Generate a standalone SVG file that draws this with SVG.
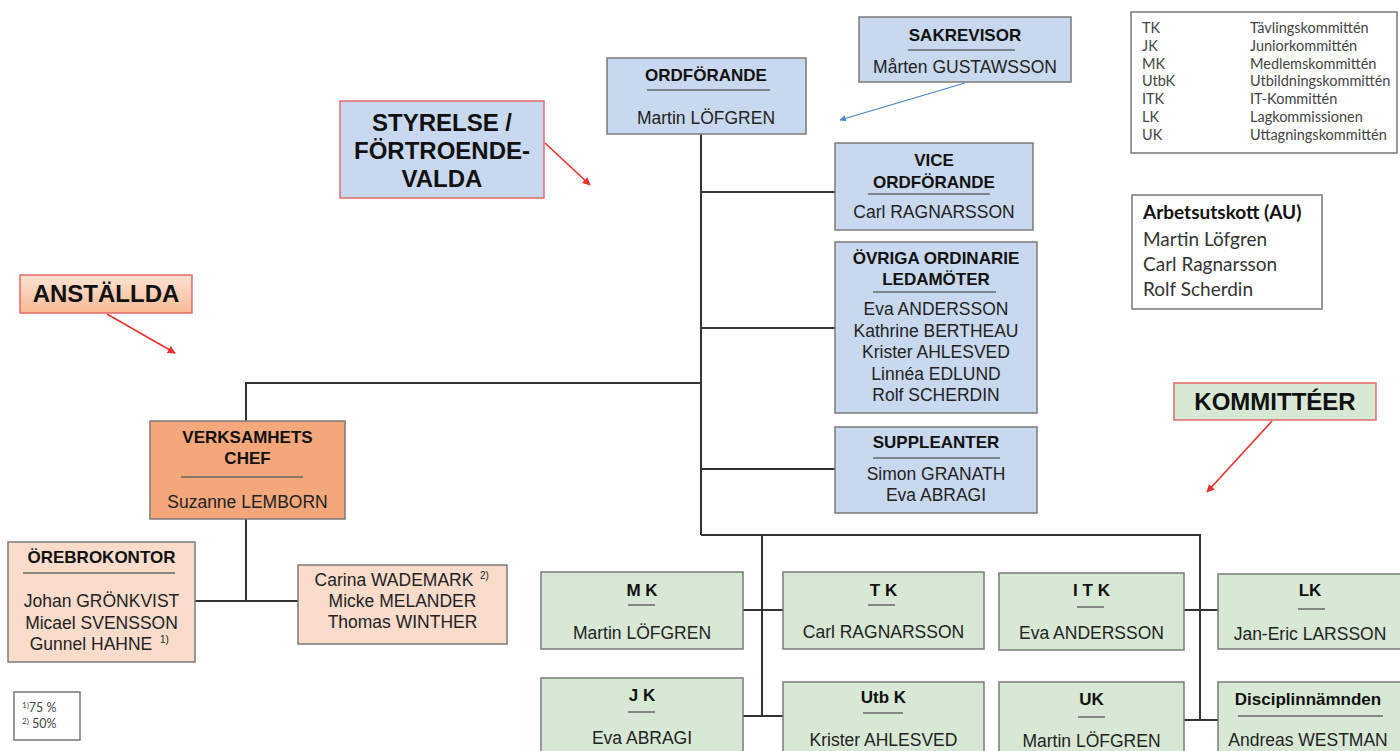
<svg xmlns="http://www.w3.org/2000/svg" width="1400" height="751" viewBox="0 0 1400 751">
<defs>
<style>
.bx{stroke:#7a7a7a;stroke-width:1.5}
.blue{fill:#c8d9ef}
.orange{fill:#f4a77b}
.peach{fill:#fbdccb}
.green{fill:#d7e9d4}
.lab{stroke:#e36a6a;stroke-width:1.5}
.t{font-family:"Liberation Sans",Arial,sans-serif;font-weight:bold;font-size:17px;fill:#111;text-anchor:middle}
.n{font-family:"Liberation Sans",Arial,sans-serif;font-size:17.5px;fill:#222;text-anchor:middle}
.big{font-family:"Liberation Sans",Arial,sans-serif;font-weight:bold;font-size:24px;fill:#111;text-anchor:middle}
.sup{font-family:"Liberation Sans",Arial,sans-serif;font-size:10px;fill:#222}
.sep{stroke:#666;stroke-width:1.5}
.conn{fill:none;stroke:#333;stroke-width:2}
.red{fill:none;stroke:#e8322e;stroke-width:1.6}
.bl{fill:none;stroke:#4a86c8;stroke-width:1.3}
.cal{font-family:Lato,"Open Sans",sans-serif;fill:#444;font-size:14.5px}
.cal2{font-family:Lato,"Open Sans",sans-serif;fill:#333;font-size:19px}
.frame{fill:#fff;stroke:#777;stroke-width:1.5}
</style>
<marker id="ar" viewBox="0 0 10 10" refX="9" refY="5" markerWidth="5" markerHeight="5" orient="auto"><path d="M0,0 L10,5 L0,10 z" fill="#e8322e"/></marker>
<marker id="ab" viewBox="0 0 10 10" refX="9" refY="5" markerWidth="5" markerHeight="5" orient="auto"><path d="M0,0 L10,5 L0,10 z" fill="#4a86c8"/></marker>
<linearGradient id="gA" x1="0" y1="0" x2="0" y2="1"><stop offset="0" stop-color="#fde3d3"/><stop offset="1" stop-color="#f7b994"/></linearGradient>
</defs>
<rect width="1400" height="751" fill="#fff"/>

<g id="connectors">
<path class="conn" d="M701,133 V535"/>
<path class="conn" d="M701,192 H835"/>
<path class="conn" d="M701,328 H835"/>
<path class="conn" d="M701,469 H835"/>
<path class="conn" d="M701,383 H246 V421"/>
<path class="conn" d="M246,519 V601"/>
<path class="conn" d="M195,601 H298"/>
<path class="conn" d="M701,535 H1200 V720"/>
<path class="conn" d="M762,535 V716"/>
<path class="conn" d="M743,610 H783"/>
<path class="conn" d="M743,716 H783"/>
<path class="conn" d="M1184,610 H1218"/>
<path class="conn" d="M1184,720 H1218"/>
<path class="red" d="M545,143 L590,185" marker-end="url(#ar)"/>
<path class="red" d="M107,314 L175,353" marker-end="url(#ar)"/>
<path class="red" d="M1272,421 L1207,492" marker-end="url(#ar)"/>
<path class="bl" d="M965,83 L840,120" marker-end="url(#ab)"/>
</g>

<g id="styrelse">
<rect x="340" y="101" width="204" height="97" class="blue lab"/>
<text class="big" x="442" y="131">STYRELSE /</text>
<text class="big" x="442" y="159">FÖRTROENDE-</text>
<text class="big" x="442" y="187">VALDA</text>
</g>

<g id="anstallda">
<rect x="20" y="275" width="172" height="38" fill="url(#gA)" class="lab"/>
<text class="big" x="106" y="302">ANSTÄLLDA</text>
</g>

<g id="kommitteer">
<rect x="1174" y="383" width="202" height="37" class="green lab"/>
<text class="big" x="1275" y="410">KOMMITTÉER</text>
</g>

<g id="ordforande">
<rect x="607" y="58" width="199" height="76" class="blue bx"/>
<text class="t" x="706" y="81">ORDFÖRANDE</text>
<line class="sep" x1="647" y1="90" x2="770" y2="90"/>
<text class="n" x="706" y="124">Martin LÖFGREN</text>
</g>

<g id="sakrevisor">
<rect x="859" y="17" width="212" height="65" class="blue bx"/>
<text class="t" x="965" y="41">SAKREVISOR</text>
<line class="sep" x1="908" y1="50" x2="1015" y2="50"/>
<text class="n" x="965" y="73">Mårten GUSTAWSSON</text>
</g>

<g id="vice">
<rect x="835" y="143" width="198" height="87" class="blue bx"/>
<text class="t" x="934" y="166">VICE</text>
<text class="t" x="934" y="188">ORDFÖRANDE</text>
<line class="sep" x1="868" y1="194" x2="990" y2="194"/>
<text class="n" x="934" y="218">Carl RAGNARSSON</text>
</g>

<g id="ovriga">
<rect x="835" y="242" width="202" height="171" class="blue bx"/>
<text class="t" x="936" y="264">ÖVRIGA ORDINARIE</text>
<text class="t" x="936" y="285">LEDAMÖTER</text>
<line class="sep" x1="873" y1="292" x2="996" y2="292"/>
<text class="n" x="936" y="315">Eva ANDERSSON</text>
<text class="n" x="936" y="336.5">Kathrine BERTHEAU</text>
<text class="n" x="936" y="358">Krister AHLESVED</text>
<text class="n" x="936" y="379.5">Linnéa EDLUND</text>
<text class="n" x="936" y="401">Rolf SCHERDIN</text>
</g>

<g id="suppleanter">
<rect x="835" y="427" width="202" height="86" class="blue bx"/>
<text class="t" x="936" y="448">SUPPLEANTER</text>
<line class="sep" x1="873" y1="458" x2="1000" y2="458"/>
<text class="n" x="936" y="480">Simon GRANATH</text>
<text class="n" x="936" y="501">Eva ABRAGI</text>
</g>

<g id="verksamhetschef">
<rect x="150" y="421" width="195" height="98" class="orange bx"/>
<text class="t" x="247.5" y="443">VERKSAMHETS</text>
<text class="t" x="247.5" y="464">CHEF</text>
<line class="sep" x1="181" y1="477" x2="303" y2="477"/>
<text class="n" x="247.5" y="508">Suzanne LEMBORN</text>
</g>

<g id="orebrokontor">
<rect x="8" y="542" width="187" height="120" class="peach bx"/>
<text class="t" x="101.5" y="563">ÖREBROKONTOR</text>
<line class="sep" x1="23" y1="573" x2="175" y2="573"/>
<text class="n" x="101.5" y="607">Johan GRÖNKVIST</text>
<text class="n" x="101.5" y="629">Micael SVENSSON</text>
<text class="n" x="91" y="650">Gunnel HAHNE</text>
<text class="sup" x="160" y="643">1)</text>
</g>

<g id="personal">
<rect x="298" y="565" width="209" height="79" class="peach bx"/>
<text class="n" x="394" y="586">Carina WADEMARK</text>
<text class="sup" x="480" y="579">2)</text>
<text class="n" x="402.5" y="607">Micke MELANDER</text>
<text class="n" x="402.5" y="628">Thomas WINTHER</text>
</g>

<g id="fotnot">
<rect x="14" y="692" width="66" height="48" class="frame"/>
<text class="cal" x="22" y="712" style="font-size:12.5px"><tspan style="font-size:8px" dy="-4">1)</tspan><tspan dy="4">75 %</tspan></text>
<text class="cal" x="22" y="728" style="font-size:12.5px"><tspan style="font-size:8px" dy="-4">2)</tspan><tspan dy="4"> 50%</tspan></text>
</g>

<g id="forkortningar">
<rect x="1131" y="12" width="266" height="141" class="frame"/>
<text class="cal"><tspan x="1142" y="33">TK</tspan><tspan x="1250" y="33">Tävlingskommittén</tspan></text>
<text class="cal"><tspan x="1142" y="51">JK</tspan><tspan x="1250" y="51">Juniorkommittén</tspan></text>
<text class="cal"><tspan x="1142" y="68.5">MK</tspan><tspan x="1250" y="68.5">Medlemskommittén</tspan></text>
<text class="cal"><tspan x="1142" y="86">UtbK</tspan><tspan x="1250" y="86">Utbildningskommittén</tspan></text>
<text class="cal"><tspan x="1142" y="104">ITK</tspan><tspan x="1250" y="104">IT-Kommittén</tspan></text>
<text class="cal"><tspan x="1142" y="122">LK</tspan><tspan x="1250" y="122">Lagkommissionen</tspan></text>
<text class="cal"><tspan x="1142" y="140">UK</tspan><tspan x="1250" y="140">Uttagningskommittén</tspan></text>
</g>

<g id="arbetsutskott">
<rect x="1132" y="195" width="190" height="114" class="frame"/>
<text class="cal2" x="1143" y="219" style="font-weight:bold;fill:#111">Arbetsutskott (AU)</text>
<text class="cal2" x="1143" y="246">Martin Löfgren</text>
<text class="cal2" x="1143" y="271">Carl Ragnarsson</text>
<text class="cal2" x="1143" y="296">Rolf Scherdin</text>
</g>

<g id="mk">
<rect x="541" y="572" width="202" height="77" class="green bx"/>
<text class="t" x="642" y="596">M K</text>
<line class="sep" x1="628" y1="605" x2="655" y2="605"/>
<text class="n" x="642" y="639">Martin LÖFGREN</text>
</g>

<g id="tk">
<rect x="783" y="572" width="201" height="77" class="green bx"/>
<text class="t" x="883.5" y="596">T K</text>
<line class="sep" x1="868" y1="605" x2="895" y2="605"/>
<text class="n" x="883.5" y="638">Carl RAGNARSSON</text>
</g>

<g id="itk">
<rect x="999" y="573" width="185" height="77" class="green bx"/>
<text class="t" x="1091.5" y="596">I T K</text>
<line class="sep" x1="1077" y1="607" x2="1104" y2="607"/>
<text class="n" x="1091.5" y="639">Eva ANDERSSON</text>
</g>

<g id="lk">
<rect x="1218" y="574" width="190" height="75" class="green bx"/>
<text class="t" x="1310" y="596">LK</text>
<line class="sep" x1="1298" y1="609" x2="1325" y2="609"/>
<text class="n" x="1310" y="640">Jan-Eric LARSSON</text>
</g>

<g id="jk">
<rect x="541" y="678" width="202" height="85" class="green bx"/>
<text class="t" x="642" y="701">J K</text>
<line class="sep" x1="628" y1="712" x2="655" y2="712"/>
<text class="n" x="642" y="744">Eva ABRAGI</text>
</g>

<g id="utbk">
<rect x="783" y="682" width="201" height="85" class="green bx"/>
<text class="t" x="883.5" y="703">Utb K</text>
<line class="sep" x1="863" y1="713" x2="903" y2="713"/>
<text class="n" x="883.5" y="746">Krister AHLESVED</text>
</g>

<g id="uk">
<rect x="999" y="682" width="185" height="85" class="green bx"/>
<text class="t" x="1091.5" y="705">UK</text>
<line class="sep" x1="1078" y1="717" x2="1105" y2="717"/>
<text class="n" x="1091.5" y="747">Martin LÖFGREN</text>
</g>

<g id="disciplinnamnden">
<rect x="1218" y="682" width="190" height="85" class="green bx"/>
<text class="t" x="1308" y="705">Disciplinnämnden</text>
<line class="sep" x1="1238" y1="716" x2="1383" y2="716"/>
<text class="n" x="1308" y="746">Andreas WESTMAN</text>
</g>
</svg>
